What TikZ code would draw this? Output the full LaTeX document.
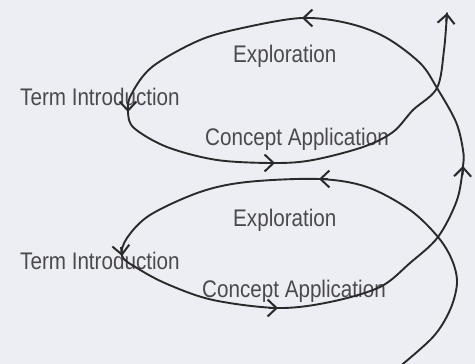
\documentclass[tikz,border=0pt]{standalone}
\usepackage{fontspec}
\setmainfont[FakeStretch=0.86]{Liberation Sans}
\usetikzlibrary{arrows.meta}
\definecolor{bgc}{HTML}{EDEEF3}
\definecolor{linec}{HTML}{2A2A2A}
\definecolor{txtc}{HTML}{4A4A4E}
\begin{document}
\begin{tikzpicture}[x=1pt,y=-1pt,
  lbl/.style={anchor=base west,inner sep=0pt,text=txtc,font=\fontsize{24}{26}\selectfont},
  spiral/.style={draw=linec,line width=1.9pt,line cap=round},
  arr/.style={draw=linec,line width=1.9pt,-{Straight Barb[length=9pt,width=17pt,line width=2pt]}}]
\fill[bgc] (0,0) rectangle (475,364);
\useasboundingbox (0,0) rectangle (475,364);
% labels
\node[lbl] (ti1) at (20,106) {Term Introduction};
\node[lbl] (ex1) at (233,62) {Exploration};
\node[lbl] (ca1) at (205,145) {Concept Application};
\node[lbl] (ti2) at (20,269) {Term Introduction};
\node[lbl] (ex2) at (233,226) {Exploration};
\node[lbl] (ca2) at (202,297) {Concept Application};
% arrow positions
\coordinate (a1) at (319,179);
\coordinate (a2) at (122,256);
\coordinate (a3) at (278,308);
\coordinate (a4) at (463,166);
\coordinate (a5) at (302,18);
\coordinate (a6) at (128,112);
\coordinate (a7) at (275,163);
\coordinate (a8) at (447,13);
% spiral
\draw[spiral] plot[smooth,tension=0.55] coordinates {
  (398,368) (433,337) (450,310) (457,283) (452,260) (438,237) (410,210)
  (367,187) (a1) (247,182) (200,192) (150,215) (127,238) (a2) (137,268)
  (167,284) (213,300) (a3) (330,302) (380,287) (410,263) (438,237)
  (457,200) (a4) (463,150) (456,122) (437,88) (420,63) (385,37) (347,23)
  (a5) (247,27) (200,40) (152,67) (131,95) (a6) (134,128) (167,147)
  (217,160) (a7) (313,160) (363,147) (393,132) (413,110) (437,88)
  (444,50) (a8)};
% arrowheads
\draw[arr] ([shift={(9,0)}]a1) -- (a1);
\draw[arr] ([shift={(-1,-9)}]a2) -- (a2);
\draw[arr] ([shift={(-9,0)}]a3) -- (a3);
\draw[arr] ([shift={(-0.3,9)}]a4) -- (a4);
\draw[arr] ([shift={(9,0)}]a5) -- (a5);
\draw[arr] ([shift={(0,-9)}]a6) -- (a6);
\draw[arr] ([shift={(-9,0)}]a7) -- (a7);
\draw[arr] ([shift={(-0.8,9)}]a8) -- (a8);
\end{tikzpicture}
\end{document}
